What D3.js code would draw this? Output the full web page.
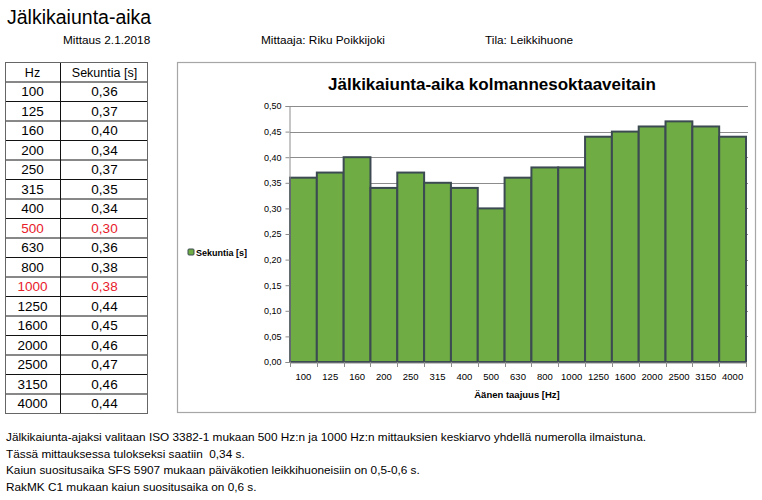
<!DOCTYPE html>
<html>
<head>
<meta charset="utf-8">
<script src="https://cdn.jsdelivr.net/npm/d3@7"></script>
<style>
  html, body { margin: 0; padding: 0; background: #fff; }
  svg { display: block; font-family: "Liberation Sans", Arial, sans-serif; }
  text { white-space: pre; }
</style>
</head>
<body>
<svg id="c" width="762" height="500"></svg>
<script>
const freqs = ["100","125","160","200","250","315","400","500","630","800","1000","1250","1600","2000","2500","3150","4000"];
const seconds = [0.36,0.37,0.40,0.34,0.37,0.35,0.34,0.30,0.36,0.38,0.38,0.44,0.45,0.46,0.47,0.46,0.44];
const highlighted = ["500","1000"];
const yTicks = [0,0.05,0.10,0.15,0.20,0.25,0.30,0.35,0.40,0.45,0.50];
const notes = [
  "Jälkikaiunta-ajaksi valitaan ISO 3382-1 mukaan 500 Hz:n ja 1000 Hz:n mittauksien keskiarvo yhdellä numerolla ilmaistuna.",
  "Tässä mittauksessa tulokseksi saatiin  0,34 s.",
  "Kaiun suositusaika SFS 5907 mukaan päiväkotien leikkihuoneisiin on 0,5-0,6 s.",
  "RakMK C1 mukaan kaiun suositusaika on 0,6 s."
];

const fmt = v => d3.format(".2f")(v).replace(".", ",");
const svg = d3.select("#c");

// Header
svg.append("text").attr("x", 7).attr("y", 24).attr("font-size", 19.5).attr("fill", "#000").text("Jälkikaiunta-aika");
const meta = [["Mittaus 2.1.2018", 63], ["Mittaaja: Riku Poikkijoki", 261], ["Tila: Leikkihuone", 485]];
svg.selectAll(".meta").data(meta).enter().append("text")
  .attr("x", d => d[1]).attr("y", 44).attr("font-size", 11.8).attr("fill", "#000").text(d => d[0]);

// Table
const tX0 = 5, tX1 = 60, tX2 = 147, tY0 = 62;
const rows = [["Hz", "Sekuntia [s]"]].concat(freqs.map((f, i) => [f, fmt(seconds[i])]));
const rowScale = d3.scaleBand().domain(d3.range(rows.length)).range([tY0, 413]);
const rh = rowScale.bandwidth();
const tg = svg.append("g");
tg.selectAll(".hl").data(d3.range(1, rows.length)).enter().append("line")
  .attr("x1", tX0).attr("x2", tX2).attr("y1", d => rowScale(d) + 0.5).attr("y2", d => rowScale(d) + 0.5)
  .attr("stroke", "#111").attr("stroke-width", 1);
tg.append("line").attr("x1", tX1 + 0.5).attr("x2", tX1 + 0.5).attr("y1", tY0).attr("y2", 413).attr("stroke", "#111");
tg.append("rect").attr("x", tX0 + 0.5).attr("y", tY0 + 0.5).attr("width", tX2 - tX0).attr("height", 413 - tY0)
  .attr("fill", "none").attr("stroke", "#666").attr("stroke-width", 1);
rows.forEach((r, i) => {
  const col = highlighted.includes(r[0]) ? "#e8202a" : "#000";
  const y = rowScale(i) + rh / 2 + 5;
  tg.append("text").attr("x", (tX0 + tX1) / 2).attr("y", y).attr("text-anchor", "middle")
    .attr("font-size", i === 0 ? 12.5 : 13.5).attr("fill", col).text(r[0]);
  tg.append("text").attr("x", (tX1 + tX2) / 2 + 1).attr("y", y).attr("text-anchor", "middle")
    .attr("font-size", i === 0 ? 12.5 : 13.5).attr("fill", col).text(r[1]);
});

// Chart box
svg.append("rect").attr("x", 177.5).attr("y", 62.5).attr("width", 578).attr("height", 350)
  .attr("fill", "#fff").attr("stroke", "#a6a6a6").attr("stroke-width", 1.2);
svg.append("text").attr("x", 492).attr("y", 90).attr("text-anchor", "middle")
  .attr("font-size", 17).attr("font-weight", "bold").attr("fill", "#000")
  .text("Jälkikaiunta-aika kolmannesoktaaveitain");

const px0 = 290, px1 = 746, py0 = 362, py1 = 106;
const x = d3.scaleBand().domain(freqs).range([px0, px1]).padding(0);
const y = d3.scaleLinear().domain([0, 0.5]).range([py0, py1]);

// gridlines
svg.append("g").selectAll("line").data(yTicks.slice(1)).enter().append("line")
  .attr("x1", px0).attr("x2", 748).attr("y1", d => Math.round(y(d)) + 0.5).attr("y2", d => Math.round(y(d)) + 0.5)
  .attr("stroke", "#8c8c8c").attr("stroke-width", 1);

// bars
svg.append("g").selectAll("rect").data(freqs).enter().append("rect")
  .attr("x", d => x(d)).attr("width", x.bandwidth())
  .attr("y", (d, i) => y(seconds[i])).attr("height", (d, i) => py0 - y(seconds[i]))
  .attr("fill", "#6fad44").attr("stroke", "#3c4a52").attr("stroke-width", 2);

// y axis
const yAxis = d3.axisLeft(y).tickValues(yTicks).tickFormat(fmt).tickSize(4).tickPadding(4);
const ya = svg.append("g").attr("transform", `translate(${px0 - 0.5},0)`).call(yAxis);
ya.select(".domain").attr("stroke", "#8c8c8c");
ya.selectAll(".tick line").attr("stroke", "#8c8c8c");
ya.selectAll("text").attr("font-size", 9).attr("fill", "#000").attr("font-family", "Liberation Sans, Arial, sans-serif");

// x axis
const xAxis = d3.axisBottom(x).tickSize(0).tickPadding(11);
const xa = svg.append("g").attr("transform", `translate(0,${py0 + 0.5})`).call(xAxis);
xa.select(".domain").attr("stroke", "#8c8c8c");
xa.selectAll("text").attr("font-size", 9.5).attr("fill", "#000").attr("font-family", "Liberation Sans, Arial, sans-serif");
// boundary ticks between categories
const bounds = freqs.map(f => x(f)).concat([px1]);
svg.append("g").selectAll("line").data(bounds).enter().append("line")
  .attr("x1", d => Math.round(d) + 0.5).attr("x2", d => Math.round(d) + 0.5)
  .attr("y1", py0).attr("y2", py0 + 5).attr("stroke", "#8c8c8c");

svg.append("text").attr("x", 517).attr("y", 398).attr("text-anchor", "middle")
  .attr("font-size", 9.5).attr("font-weight", "bold").attr("fill", "#000").text("Äänen taajuus [Hz]");

// legend
svg.append("rect").attr("x", 188).attr("y", 249).attr("width", 6).attr("height", 6).attr("rx", 1)
  .attr("fill", "#6fad44").attr("stroke", "#3c4a52").attr("stroke-width", 1);
svg.append("text").attr("x", 196).attr("y", 256).attr("font-size", 9).attr("font-weight", "bold")
  .attr("fill", "#000").text("Sekuntia [s]");

// notes
svg.selectAll(".note").data(notes).enter().append("text")
  .attr("x", 6).attr("y", (d, i) => 441 + i * 16.5).attr("font-size", 11.8).attr("fill", "#000").text(d => d);
</script>
</body>
</html>
